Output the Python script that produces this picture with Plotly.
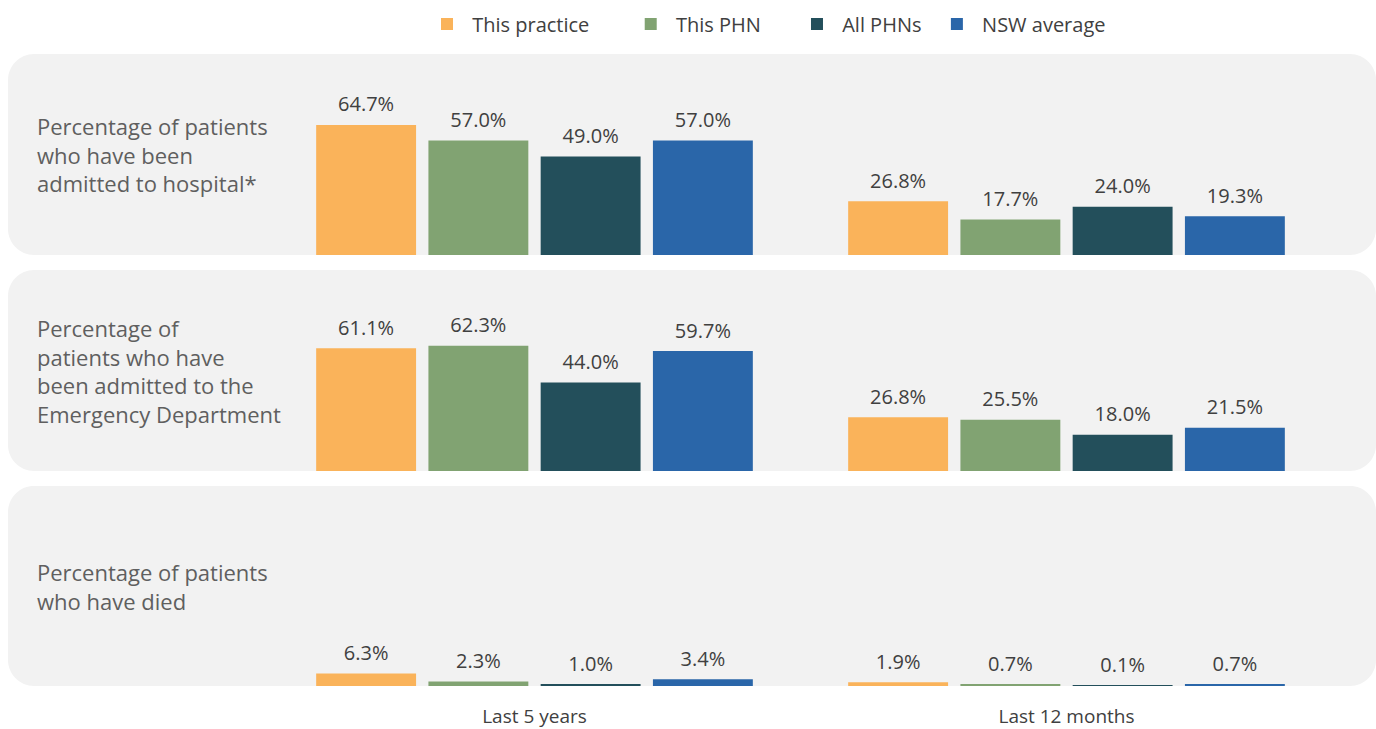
import plotly.graph_objects as go

categories = ["Last 5 years", "Last 12 months"]
series_names = ["This practice", "This PHN", "All PHNs", "NSW average"]
series_colors = ["#FAB35A", "#81A372", "#234F5B", "#2A66A9"]
legend_pad_after = [7, 6, 2, 0]

row_labels = [
    "Percentage of patients<br>who have been<br>admitted to hospital*",
    "Percentage of<br>patients who have<br>been admitted to the<br>Emergency Department",
    "Percentage of patients<br>who have died",
]

hospital_practice = [64.7, 26.8]
hospital_phn = [57.0, 17.7]
hospital_all = [49.0, 24.0]
hospital_nsw = [57.0, 19.3]

ed_practice = [61.1, 26.8]
ed_phn = [62.3, 25.5]
ed_all = [44.0, 18.0]
ed_nsw = [59.7, 21.5]

died_practice = [6.3, 1.9]
died_phn = [2.3, 0.7]
died_all = [1.0, 0.1]
died_nsw = [3.4, 0.7]

rows = [
    [hospital_practice, hospital_phn, hospital_all, hospital_nsw],
    [ed_practice, ed_phn, ed_all, ed_nsw],
    [died_practice, died_phn, died_all, died_nsw],
]

W, H = 1376, 729
FONT = "Open Sans"
NB = "\u00a0"
# panel pixel extents (top, bottom)
panels = [(54, 255), (270, 471), (486, 686)]
yaxis_ids = ["y", "y2", "y3"]

fig = go.Figure()

for r, (row, yid) in enumerate(zip(rows, yaxis_ids)):
    for name, color, vals, pad in zip(series_names, series_colors, row, legend_pad_after):
        fig.add_trace(go.Bar(
            x=categories, y=vals, name=NB + name + NB * pad, marker_color=color,
            marker_line_width=0, legendgroup=name, showlegend=(r == 0),
            xaxis="x", yaxis=yid, hovertemplate=name + ": %{y:.1f}%<extra></extra>",
        ))
    for name, vals in zip(series_names, row):
        fig.add_trace(go.Scatter(
            x=categories, y=vals, mode="markers+text",
            text=[f"{v:.1f}%" for v in vals], textposition="top center",
            textfont=dict(family=FONT, size=20, color="#404040"),
            marker=dict(size=12, opacity=0), showlegend=False,
            hoverinfo="skip", cliponaxis=False, xaxis="x", yaxis=yid,
        ))

def rrect(x0, x1, y0, y1, rad=26):
    def px(x):
        return x / W
    def py(y):
        return 1 - y / H
    k = 0.45
    return (
        f"M{px(x0 + rad)},{py(y0)} L{px(x1 - rad)},{py(y0)} "
        f"C{px(x1 - rad * k)},{py(y0)} {px(x1)},{py(y0 + rad * k)} {px(x1)},{py(y0 + rad)} "
        f"L{px(x1)},{py(y1 - rad)} "
        f"C{px(x1)},{py(y1 - rad * k)} {px(x1 - rad * k)},{py(y1)} {px(x1 - rad)},{py(y1)} "
        f"L{px(x0 + rad)},{py(y1)} "
        f"C{px(x0 + rad * k)},{py(y1)} {px(x0)},{py(y1 - rad * k)} {px(x0)},{py(y1 - rad)} "
        f"L{px(x0)},{py(y0 + rad)} "
        f"C{px(x0)},{py(y0 + rad * k)} {px(x0 + rad * k)},{py(y0)} {px(x0 + rad)},{py(y0)} Z"
    )

shapes = []
annotations = []
for (top, bot), label in zip(panels, row_labels):
    shapes.append(dict(type="path", xref="paper", yref="paper", path=rrect(8, 1376, top, bot),
                       fillcolor="#F2F2F2", line_width=0, layer="below"))
    annotations.append(dict(text=label, xref="paper", yref="paper", x=35 / W,
                            y=1 - ((top + bot) / 2) / H, xanchor="left", yanchor="middle",
                            align="left", showarrow=False,
                            font=dict(family=FONT, size=22, color="#5f5f5f")))

def dom(top, bot):
    return [1 - bot / H, 1 - top / H]

c0, c1 = 534.5, 1066.5
unit = c1 - c0
xr = [-c0 / unit, (W - c0) / unit]

fig.update_layout(
    width=W, height=H,
    margin=dict(l=0, r=0, t=0, b=0),
    paper_bgcolor="white", plot_bgcolor="rgba(0,0,0,0)",
    barmode="group", bargap=0.156, bargroupgap=0.11,
    scattermode="group", scattergap=0.156,
    font=dict(family=FONT, color="#404040"),
    showlegend=True,
    legend=dict(orientation="h", x=427 / W, xanchor="left", y=1 - 24 / H, yanchor="middle",
                font=dict(family=FONT, size=20, color="#404040"), bgcolor="rgba(0,0,0,0)"),
    xaxis=dict(domain=[0, 1], range=xr, anchor="y3", showgrid=False, zeroline=False,
               showline=False, ticks="", ticklabelstandoff=17,
               tickfont=dict(family=FONT, size=19, color="#404040")),
    yaxis=dict(domain=dom(*panels[0]), range=[0, 100], visible=False),
    yaxis2=dict(domain=dom(*panels[1]), range=[0, 100], visible=False),
    yaxis3=dict(domain=dom(*panels[2]), range=[0, 100], visible=False),
    shapes=shapes, annotations=annotations,
)

fig.write_html("out.html", config={"displayModeBar": False},
               post_script="document.body.style.margin='0';document.body.style.overflow='hidden';")
